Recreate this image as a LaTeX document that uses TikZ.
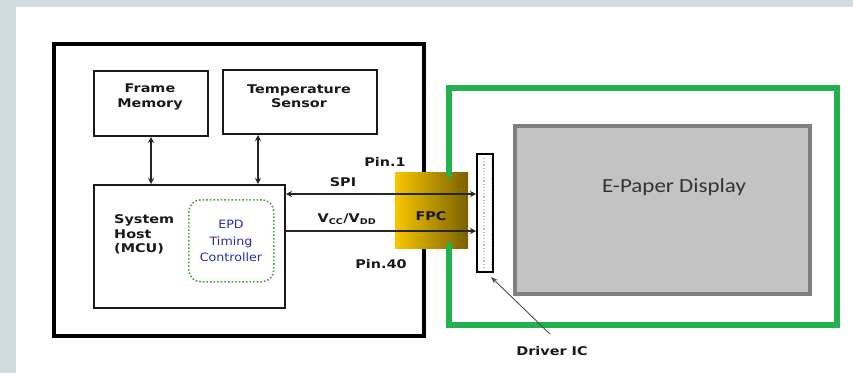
\documentclass[tikz,border=0pt]{standalone}
\usepackage{fontspec}
\usetikzlibrary{arrows.meta}
\newfontfamily\labfont{DejaVu Sans}[FakeStretch=1.2]
\newfontfamily\epdfont{DejaVu Sans}[FakeStretch=1.1]
\newfontfamily\dispfont{Carlito}[FakeStretch=1.15]
\definecolor{bggray}{HTML}{D1DBE0}
\definecolor{framegreen}{HTML}{22B14C}
\definecolor{dotgreen}{HTML}{3DAA3D}
\definecolor{epdblue}{HTML}{2B2BB0}
\definecolor{dispfill}{HTML}{C3C3C3}
\definecolor{dispedge}{HTML}{808080}
\definecolor{fpcyellow}{HTML}{F7C600}
\definecolor{fpcdark}{HTML}{7A6000}
\tikzset{
  blockbox/.style={draw=black!90, line width=2pt, fill=white, anchor=north west, inner sep=0pt},
  lab/.style={font=\labfont\bfseries\fontsize{12}{14.5}\selectfont, text=black!90, inner sep=0pt, align=center},
  conn/.style={draw=black!85, line width=2pt},
  >={Stealth[length=6pt,width=6pt]},
}
\begin{document}
\begin{tikzpicture}[x=1pt,y=-1pt]
\useasboundingbox (0,0) rectangle (853,373);
\fill[bggray] (0,0) rectangle (853,373);
\fill[white] (16,7) rectangle (853,373);

% outer host board
\node[draw=black, line width=4pt, anchor=north west, minimum width=370pt, minimum height=292pt, inner sep=0pt] (board) at (52,42) {};

% blocks
\node[blockbox, minimum width=114pt, minimum height=65pt] (fm) at (93,70) {};
\node[blockbox, minimum width=154pt, minimum height=64pt] (ts) at (222,69) {};
\node[blockbox, minimum width=191pt, minimum height=123pt] (sh) at (93,184) {};
\node[draw=dotgreen, line width=1.6pt, dotted, rounded corners=12pt, anchor=north west, minimum width=85pt, minimum height=82pt, inner sep=0pt] (epd) at (188,199) {};

\node[lab] (fmt) at (150,97) {Frame\\Memory};
\node[lab] (tst) at (299,96) {Temperature\\Sensor};
\node[lab, align=left, anchor=west] (sht) at (114,234.5) {System\\Host\\(MCU)};
\node[font=\epdfont\fontsize{11.5}{16.5}\selectfont, text=epdblue, align=center, inner sep=0pt] (epdt) at (231,241) {EPD\\Timing\\Controller};

% vertical links
\draw[conn, <->] (fm.south) -- (fm.south |- sh.north);
\draw[conn, <->] ([xshift=36pt]ts.south west) -- ([xshift=36pt]ts.south west |- sh.north);

% FPC
\node[left color=fpcyellow, right color=fpcdark, anchor=north west, minimum width=73pt, minimum height=76pt, inner sep=0pt] (fpc) at (395,172) {};
\node[lab] (fpct) at (431,216) {FPC};

% green display frame
\draw[framegreen, line width=6pt, line cap=round, line join=miter]
  (449,175) -- (449,88) -- (837,88) -- (837,325) -- (449,325) -- (449,245);

% driver IC
\node[draw=black, line width=2pt, fill=white, anchor=north west, minimum width=16pt, minimum height=118pt, inner sep=0pt] (ic) at (476,153) {};
\draw[black!25, dotted, line width=1.2pt] ([xshift=-1pt,yshift=-5pt]ic.north) -- ([xshift=-1pt,yshift=5pt]ic.south);
\draw[black!20, dotted, line width=0.8pt] ([xshift=-3pt,yshift=-5pt]ic.north east) -- ([xshift=-3pt,yshift=5pt]ic.south east);

% signal lines
\draw[conn, <->] (sh.east |- 0,194) -- (ic.west |- 0,194);
\draw[conn, ->] (sh.east |- 0,231) -- (ic.west |- 0,231);

\node[lab] (pin1) at (385,162) {Pin.1};
\node[lab] (spi) at (343,182) {SPI};
\node[lab] (vcc) at (347,219) {V\textsubscript{CC}/V\textsubscript{DD}};
\node[lab] (pin40) at (381,264) {Pin.40};

% e-paper display
\node[draw=dispedge, line width=4pt, fill=dispfill, anchor=north west, minimum width=295pt, minimum height=168pt, inner sep=0pt] (disp) at (513,124) {};
\node[font=\dispfont\fontsize{20}{24}\selectfont, text=black!80, inner sep=0pt] (dispt) at (674,187) {E-Paper Display};

% driver IC label
\node[lab] (drv) at (552,351) {Driver IC};
\coordinate (drvtop) at (550,334);
\draw[black!70, line width=0.9pt, -{Stealth[length=7pt,width=5pt]}] (drvtop) -- ([xshift=-3pt,yshift=-4pt]ic.south east);
\end{tikzpicture}
\end{document}
